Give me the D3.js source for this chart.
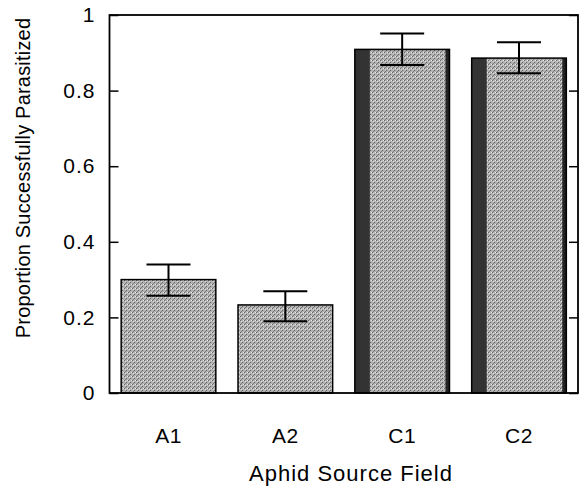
<!DOCTYPE html>
<html>
<head>
<meta charset="utf-8">
<script src="https://cdn.jsdelivr.net/npm/d3@7"></script>
<style>
  body { margin: 0; background: white; }
  svg { display: block; }
  text { font-family: "Liberation Sans", Arial, sans-serif; fill: black; }
</style>
</head>
<body>
<div id="chart"></div>
<script>
// data
const fields = ["A1", "A2", "C1", "C2"]
const proportion = [0.300, 0.233, 0.909, 0.886]
const errLow = [0.257, 0.190, 0.868, 0.846]
const errHigh = [0.340, 0.269, 0.951, 0.928]
const yTicks = [0, 0.2, 0.4, 0.6, 0.8, 1]
const darkEdge = [false, false, true, true]

const W = 582, H = 487
const plotL = 109.5, plotR = 578, plotT = 15, plotB = 393

const svg = d3.select("#chart").append("svg").attr("width", W).attr("height", H)

// halftone-ish fill
const defs = svg.append("defs")
const pat = defs.append("pattern").attr("id", "grain")
    .attr("width", 4).attr("height", 4).attr("patternUnits", "userSpaceOnUse")
pat.append("rect").attr("width", 4).attr("height", 4).attr("fill", "#b2b2b2")
pat.append("rect").attr("x", 0).attr("y", 0).attr("width", 1).attr("height", 1).attr("fill", "#666")
pat.append("rect").attr("x", 2).attr("y", 2).attr("width", 1).attr("height", 1).attr("fill", "#666")
pat.append("rect").attr("x", 3).attr("y", 0).attr("width", 1).attr("height", 1).attr("fill", "#e8e8e8")
pat.append("rect").attr("x", 1).attr("y", 3).attr("width", 1).attr("height", 1).attr("fill", "#7c7c7c")
pat.append("rect").attr("x", 1).attr("y", 1).attr("width", 1).attr("height", 1).attr("fill", "#dedede")

const x = d3.scaleBand().domain(fields).range([plotL, plotR]).paddingInner(0.19).paddingOuter(0.1)
const y = d3.scaleLinear().domain([0, 1]).range([plotB, plotT])

const rows = fields.map((f, i) => ({ f, v: proportion[i], lo: errLow[i], hi: errHigh[i], dark: darkEdge[i] }))

const bars = svg.append("g").selectAll("g").data(rows).join("g")
bars.append("rect")
    .attr("x", d => x(d.f))
    .attr("y", d => y(d.v))
    .attr("width", x.bandwidth())
    .attr("height", d => y(0) - y(d.v))
    .attr("fill", "url(#grain)")
bars.filter(d => d.dark).append("rect")
    .attr("x", d => x(d.f))
    .attr("y", d => y(d.v))
    .attr("width", 15)
    .attr("height", d => y(0) - y(d.v))
    .attr("fill", "#333")
bars.filter(d => d.dark).append("rect")
    .attr("x", d => x(d.f) + x.bandwidth() - 4)
    .attr("y", d => y(d.v))
    .attr("width", 4)
    .attr("height", d => y(0) - y(d.v))
    .attr("fill", "#222")
bars.append("rect")
    .attr("x", d => x(d.f))
    .attr("y", d => y(d.v))
    .attr("width", x.bandwidth())
    .attr("height", d => y(0) - y(d.v))
    .attr("fill", "none")
    .attr("stroke", "black")
    .attr("stroke-width", 1.5)

// error bars
const cap = 22
const eb = svg.append("g").attr("stroke", "black").attr("stroke-width", 2)
rows.forEach(d => {
    const cx = x(d.f) + x.bandwidth() / 2
    eb.append("line").attr("x1", cx).attr("x2", cx).attr("y1", y(d.hi)).attr("y2", y(d.lo))
    eb.append("line").attr("x1", cx - cap).attr("x2", cx + cap).attr("y1", y(d.hi)).attr("y2", y(d.hi))
    eb.append("line").attr("x1", cx - cap).attr("x2", cx + cap).attr("y1", y(d.lo)).attr("y2", y(d.lo))
})

// axes
const yLeft = svg.append("g").attr("transform", `translate(${plotL},0)`)
    .call(d3.axisLeft(y).tickValues(yTicks).tickFormat(d3.format("~g")).tickSizeInner(-9).tickSizeOuter(0).tickPadding(14))
yLeft.selectAll("text").attr("font-size", 21).attr("letter-spacing", 1)
yLeft.selectAll("line").attr("stroke-width", 1.5)
yLeft.select(".domain").remove()

const yRight = svg.append("g").attr("transform", `translate(${plotR},0)`)
    .call(d3.axisRight(y).tickValues(yTicks).tickFormat("").tickSizeInner(-9).tickSizeOuter(0))
yRight.selectAll("line").attr("stroke-width", 1.5)
yRight.select(".domain").remove()

const xAx = svg.append("g").attr("transform", `translate(0,${plotB})`)
    .call(d3.axisBottom(x).tickSize(0).tickPadding(35))
xAx.selectAll("text").attr("font-size", 21).attr("letter-spacing", 0.5)
xAx.select(".domain").remove()

// frame
svg.append("rect")
    .attr("x", plotL).attr("y", plotT)
    .attr("width", plotR - plotL).attr("height", plotB - plotT)
    .attr("fill", "none").attr("stroke", "black").attr("stroke-width", 1.8)

svg.append("text")
    .attr("x", 351).attr("y", 481)
    .attr("text-anchor", "middle").attr("font-size", 22).attr("letter-spacing", 1)
    .text("Aphid Source Field")

svg.append("text")
    .attr("transform", "translate(30,178) rotate(-90)")
    .attr("text-anchor", "middle").attr("font-size", 20).attr("letter-spacing", 0.2)
    .text("Proportion Successfully Parasitized")
</script>
</body>
</html>
